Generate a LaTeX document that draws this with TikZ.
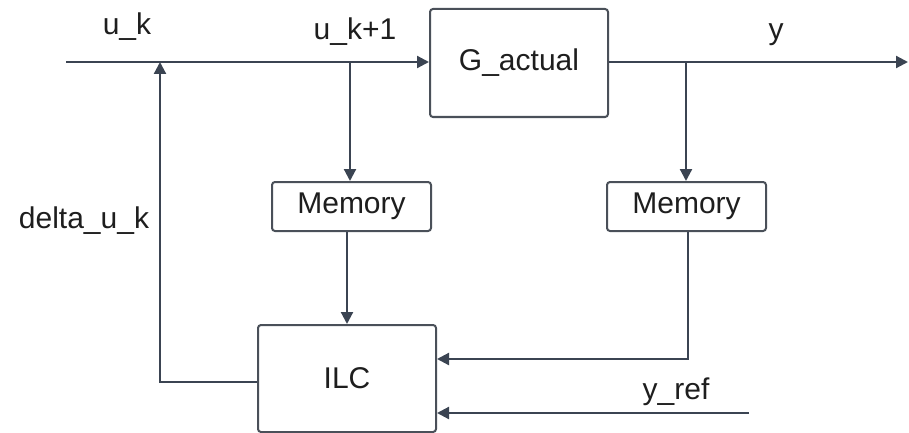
\documentclass[tikz,border=0pt]{standalone}
\usepackage{fontspec}
\setmainfont{Liberation Sans}
\usetikzlibrary{arrows.meta}
\definecolor{wire}{HTML}{3B4452}
\definecolor{frame}{HTML}{4A5059}
\definecolor{ink}{HTML}{1E1E1E}
\begin{document}
\begin{tikzpicture}[x=1pt,y=-1pt,
  blockbox/.style={draw=frame,line width=2pt,rounded corners=3pt,fill=white,
    text=ink,font=\fontsize{30}{34}\selectfont,inner sep=0pt},
  wirearrow/.style={draw=wire,line width=2.2pt,
    -{Triangle[length=12pt,width=12pt]}},
  sig/.style={text=ink,font=\fontsize{30}{34}\selectfont,inner sep=0pt}]
\useasboundingbox (0,0) rectangle (909,433);

% blocks
\node[blockbox,minimum width=178pt,minimum height=108pt] (plant) at (519,63) {G\_actual};
\node[blockbox,minimum width=159pt,minimum height=49pt] (mem1) at (351.5,206.5) {Memory};
\node[blockbox,minimum width=159pt,minimum height=49pt] (mem2) at (686.5,206.5) {Memory};
\node[blockbox,minimum width=178pt,minimum height=107pt] (ilc) at (347,378.5) {ILC};

% signal ends and junctions
\coordinate (in) at (66,62);
\coordinate (sum) at (160,62);
\coordinate (tapu) at (350,62);
\coordinate (tapy) at (686,62);
\coordinate (out) at (908,62);
\coordinate (fbcorner) at (160,382);
\coordinate (ycorner) at (688,359);
\coordinate (yref) at (749,413);

% labels
\node[sig] (luk) at (127,27) {u\_k};
\node[sig] (luk1) at (355,32) {u\_k+1};
\node[sig] (ly) at (776,35) {y};
\node[sig] (ldu) at (84,221) {delta\_u\_k};
\node[sig] (lyref) at (676,392) {y\_ref};

% forward path
\draw[wirearrow] (in) -- (plant.west |- in);
\draw[wirearrow] (plant.east |- out) -- (out);
\draw[wirearrow] (tapu) -- (tapu |- mem1.north);
\draw[wirearrow] (tapy) -- (tapy |- mem2.north);

% learning path
\draw[wirearrow] (mem1.south -| 347,0) -- (347,0 |- ilc.north);
\draw[wirearrow] (ycorner |- mem2.south) -- (ycorner) -- (ilc.east |- ycorner);
\draw[wirearrow] (yref) -- (ilc.east |- yref);
\draw[wirearrow] (ilc.west |- fbcorner) -- (fbcorner) -- (sum);
\end{tikzpicture}
\end{document}
